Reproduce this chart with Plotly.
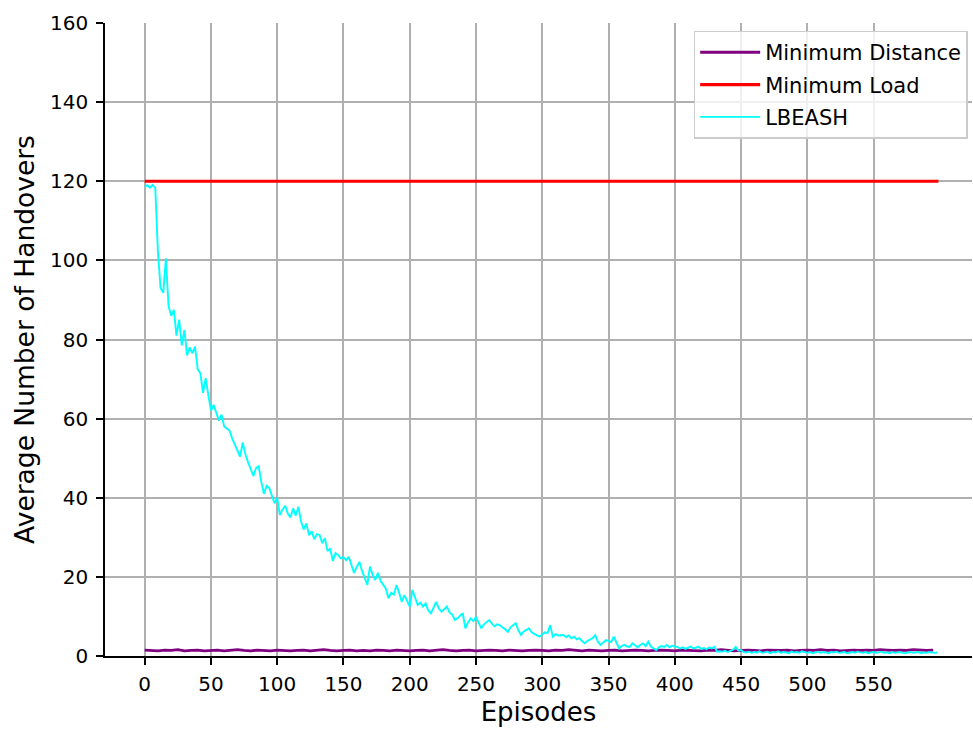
import plotly.graph_objects as go

# ---------------- data ----------------
lbeash_episodes = list(range(0, 600, 2))
lbeash_values = [
    118.6, 119.0, 118.4, 119.1, 118.3, 102.0, 93.0, 91.8, 100.5, 88.5,
    86.0, 87.5, 81.0, 85.0, 78.5, 82.4, 76.0, 78.0, 76.5, 78.2,
    72.5, 71.5, 66.5, 70.2, 66.0, 62.0, 63.5, 61.3, 59.5, 61.0,
    58.0, 57.5, 57.0, 55.0, 53.5, 52.0, 50.4, 54.0, 51.0, 49.0,
    47.0, 45.5, 47.5, 48.0, 44.0, 41.0, 43.0, 42.5, 40.5, 38.6,
    40.0, 35.6, 37.0, 38.0, 36.0, 35.0, 37.3, 35.5, 37.7, 34.0,
    32.0, 33.5, 30.5, 31.5, 29.5, 30.8, 30.6, 28.5, 29.8, 26.5,
    27.2, 24.0, 26.0, 25.5, 24.7, 25.0, 24.2, 25.1, 23.0, 21.0,
    22.5, 23.8, 21.5, 19.5, 18.0, 22.6, 20.5, 19.2, 21.0, 19.0,
    17.9, 17.0, 14.6, 16.0, 15.5, 17.9, 16.0, 13.7, 15.4, 14.0,
    12.5, 16.7, 14.5, 12.9, 13.5, 12.5, 13.3, 11.5, 10.8, 12.5,
    13.7, 12.0, 11.2, 11.8, 12.5, 11.0, 10.5, 9.1, 9.5, 10.2,
    10.8, 7.0, 8.5, 9.5, 8.8, 9.9, 8.5, 7.0, 8.0, 8.6,
    9.1, 8.2, 7.5, 8.0, 7.8, 7.2, 6.8, 6.1, 7.2, 7.8,
    8.3, 6.5, 5.3, 6.2, 6.5, 7.0, 6.0, 5.5, 5.2, 4.9,
    5.5, 6.0, 5.8, 7.8, 4.9, 5.5, 5.2, 5.3, 5.3, 4.8,
    5.2, 4.5, 4.9, 4.2, 4.5, 3.8, 3.2, 3.8, 4.2, 4.5,
    5.3, 3.6, 2.8, 3.5, 4.0, 3.8, 3.5, 4.9, 3.2, 1.9,
    2.5, 2.8, 2.4, 2.3, 3.2, 2.6, 2.2, 2.8, 3.2, 2.5,
    3.6, 2.4, 2.0, 1.5, 2.2, 2.5, 2.3, 2.8, 2.2, 2.6,
    2.4, 2.3, 1.9, 2.2, 1.8, 2.1, 2.4, 1.9, 2.2, 2.3,
    1.8, 2.0, 1.7, 2.2, 1.9, 2.3, 1.1, 1.2, 1.1, 1.3,
    1.0, 1.4, 1.6, 2.3, 1.4, 1.5, 1.0, 0.9, 1.1, 0.8,
    1.0, 0.9, 1.2, 0.8, 0.9, 1.1, 0.7, 1.0, 0.9, 1.2,
    0.8, 1.0, 0.9, 0.7, 1.1, 0.9, 1.0, 0.8, 1.2, 0.9,
    0.8, 1.0, 0.7, 0.9, 1.1, 0.8, 1.0, 0.9, 0.7, 1.0,
    0.9, 1.1, 0.8, 0.9, 1.0, 0.7, 0.9, 1.0, 0.8, 1.1,
    0.9, 0.8, 1.0, 0.7, 0.9, 1.0, 0.8, 0.9, 1.1, 0.8,
    0.9, 0.7, 1.0, 0.8, 0.9, 1.0, 0.8, 0.7, 0.9, 1.0,
    0.8, 0.9, 1.0, 0.7, 0.9, 0.8, 1.0, 0.9, 0.8, 0.9,
]

min_dist_episodes = list(range(0, 600, 5))
min_dist_values = [
    1.5, 1.4, 1.3, 1.5, 1.4, 1.6, 1.3, 1.4, 1.5, 1.3,
    1.4, 1.5, 1.3, 1.4, 1.6, 1.4, 1.3, 1.5, 1.4, 1.3,
    1.5, 1.4, 1.3, 1.4, 1.5, 1.3, 1.4, 1.6, 1.4, 1.3,
    1.4, 1.5, 1.3, 1.4, 1.3, 1.5, 1.4, 1.3, 1.5, 1.4,
    1.3, 1.4, 1.5, 1.3, 1.4, 1.6, 1.4, 1.3, 1.4, 1.5,
    1.3, 1.4, 1.5, 1.4, 1.3, 1.5, 1.4, 1.3, 1.4, 1.5,
    1.4, 1.3, 1.5, 1.4, 1.6, 1.4, 1.3, 1.5, 1.4, 1.3,
    1.4, 1.5, 1.3, 1.4, 1.5, 1.4, 1.3, 1.4, 1.5, 1.4,
    1.3, 1.5, 1.4, 1.4, 1.3, 1.5, 1.4, 1.6, 1.4, 1.3,
    1.4, 1.5, 1.4, 1.3, 1.5, 1.4, 1.4, 1.5, 1.3, 1.4,
    1.5, 1.4, 1.6, 1.4, 1.5, 1.3, 1.4, 1.5, 1.4, 1.5,
    1.4, 1.6, 1.5, 1.4, 1.5, 1.4, 1.6, 1.5, 1.4, 1.5,
]

min_load_episodes = [0, 599]
min_load_values = [120, 120]

x_ticks = [0, 50, 100, 150, 200, 250, 300, 350, 400, 450, 500, 550]
y_ticks = [0, 20, 40, 60, 80, 100, 120, 140, 160]

FONT = "DejaVu Sans"

fig = go.Figure()
fig.add_trace(go.Scatter(x=min_dist_episodes, y=min_dist_values, mode="lines",
                         name="Minimum Distance", legendgroup="a",
                         line=dict(color="purple", width=2.8)))
fig.add_trace(go.Scatter(x=min_load_episodes, y=min_load_values, mode="lines",
                         name="Minimum Load", legendgroup="b",
                         line=dict(color="red", width=3.2)))
fig.add_trace(go.Scatter(x=lbeash_episodes, y=lbeash_values, mode="lines",
                         name="LBEASH", legendgroup="c",
                         line=dict(color="cyan", width=1.9)))

fig.update_layout(
    width=973, height=729,
    margin=dict(l=105, r=1, t=23, b=73),
    paper_bgcolor="white", plot_bgcolor="white",
    font=dict(family=FONT, color="black", size=20),
    showlegend=True,
    legend=dict(
        x=0.995, y=0.988, xanchor="right", yanchor="top",
        bgcolor="rgba(255,255,255,0.8)", bordercolor="#cccccc", borderwidth=1.5,
        font=dict(family=FONT, size=21, color="black"),
        tracegroupgap=2, itemwidth=60,
    ),
)
fig.update_xaxes(
    range=[-29.95, 624.3], tickvals=x_ticks, ticktext=[str(v) for v in x_ticks],
    showgrid=True, gridcolor="#b0b0b0", gridwidth=1.7, zeroline=False,
    showline=True, linecolor="black", linewidth=1.7, mirror=False,
    ticks="outside", ticklen=7, tickwidth=1.7, tickcolor="black",
    tickfont=dict(size=20, family=FONT), ticklabelstandoff=2,
    title=dict(text="Episodes", font=dict(size=26, family=FONT), standoff=8),
)
fig.update_yaxes(
    range=[0, 160], tickvals=y_ticks, ticktext=[str(v) for v in y_ticks],
    showgrid=True, gridcolor="#b0b0b0", gridwidth=1.7, zeroline=False,
    showline=True, linecolor="black", linewidth=1.7, mirror=False,
    ticks="outside", ticklen=7, tickwidth=1.7, tickcolor="black",
    tickfont=dict(size=20, family=FONT), ticklabelstandoff=4,
    title=dict(text="Average Number of Handovers", font=dict(size=26.5, family=FONT), standoff=8),
)

fig.write_html("out.html")
